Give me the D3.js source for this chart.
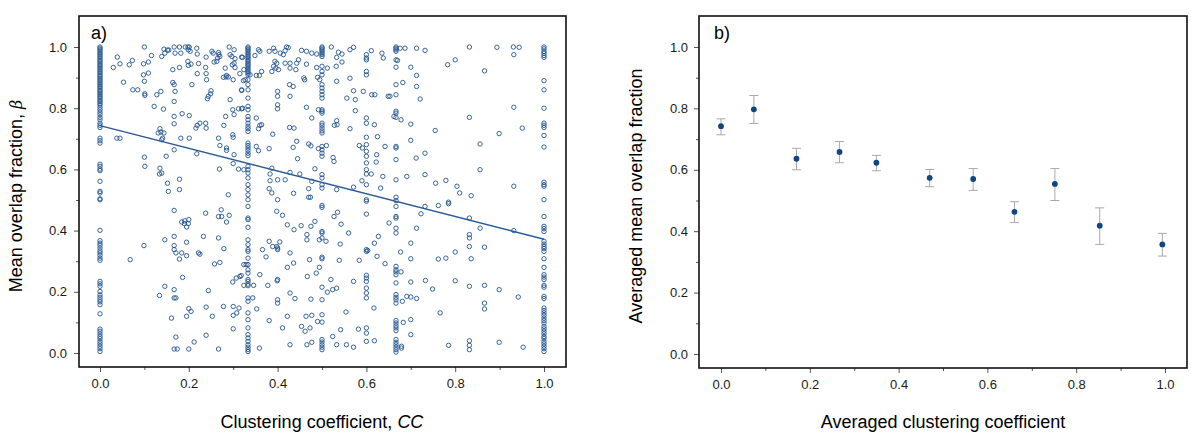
<!DOCTYPE html>
<html><head><meta charset="utf-8">
<script src="https://cdn.jsdelivr.net/npm/d3@7"></script>
<style>
body{margin:0;background:#fff;}
svg text{font-family:"Liberation Sans",Arial,sans-serif;}
</style></head>
<body><svg id="c" width="1200" height="442"></svg>
<script>
// ---------- Panel a data ----------
const columnCC = [0, 1/3, 0.4, 0.5, 0.6, 2/3, 1];
const columnBeta = [
 // CC = 0
 [1.0,0.996,0.991,0.986,0.980,0.975,0.969,0.964,0.958,0.953,0.947,0.942,0.937,0.931,0.926,0.920,0.915,0.909,0.904,0.898,0.893,0.888,0.882,0.877,0.871,0.866,0.860,0.855,0.849,0.844,0.838,0.833,0.827,0.822,0.816,0.811,0.803,0.795,0.787,0.779,0.770,0.762,0.751,0.744,0.737,0.702,0.694,0.686,0.617,0.610,0.601,0.596,0.561,0.528,0.523,0.504,0.501,0.401,0.367,0.359,0.352,0.343,0.334,0.327,0.319,0.310,0.303,0.234,0.226,0.218,0.201,0.190,0.182,0.174,0.167,0.158,0.128,0.078,0.071,0.062,0.054,0.047,0.038,0.030,0.022,0.014,0.005],
 // CC = 1/3
 [1.0,0.996,0.991,0.986,0.980,0.975,0.969,0.964,0.958,0.953,0.947,0.942,0.937,0.931,0.926,0.920,0.915,0.909,0.893,0.877,0.860,0.833,0.806,0.795,0.773,0.762,0.751,0.741,0.733,0.724,0.686,0.678,0.670,0.662,0.653,0.645,0.610,0.599,0.588,0.572,0.550,0.534,0.517,0.501,0.479,0.441,0.436,0.411,0.370,0.354,0.338,0.332,0.310,0.289,0.272,0.261,0.240,0.234,0.225,0.220,0.180,0.169,0.131,0.109,0.082,0.060,0.049,0.038,0.027,0.019,0.011,0.005],
 // CC = 0.4
 [0.855,0.839,0.811,0.798,0.343,0.338,0.240,0.174,0.163],
 // CC = 0.5
 [1.0,0.996,0.991,0.986,0.980,0.975,0.969,0.937,0.920,0.909,0.877,0.866,0.855,0.844,0.833,0.795,0.790,0.784,0.751,0.744,0.735,0.726,0.719,0.675,0.664,0.653,0.643,0.583,0.572,0.550,0.539,0.482,0.476,0.397,0.392,0.376,0.313,0.308,0.215,0.174,0.125,0.101,0.044,0.036,0.027,0.019,0.011],
 // CC = 0.6
 [0.975,0.964,0.958,0.920,0.909,0.768,0.751,0.705,0.681,0.659,0.643,0.621,0.599,0.585,0.550,0.501,0.496,0.454,0.338,0.332,0.254,0.245,0.234,0.212,0.196,0.180,0.082,0.065,0.038],
 // CC = 2/3
 [1.0,0.996,0.991,0.986,0.958,0.934,0.877,0.844,0.790,0.784,0.770,0.675,0.670,0.632,0.566,0.509,0.498,0.479,0.446,0.441,0.408,0.392,0.283,0.272,0.265,0.256,0.229,0.191,0.182,0.174,0.163,0.106,0.098,0.089,0.082,0.073,0.044,0.035,0.027,0.019,0.011,0.003],
 // CC = 1
 [1.0,0.994,0.986,0.980,0.972,0.966,0.890,0.860,0.800,0.751,0.744,0.737,0.711,0.673,0.558,0.550,0.545,0.501,0.446,0.414,0.406,0.397,0.365,0.356,0.348,0.341,0.332,0.308,0.280,0.256,0.248,0.240,0.221,0.215,0.185,0.178,0.147,0.139,0.131,0.123,0.114,0.106,0.098,0.087,0.079,0.071,0.063,0.054,0.047,0.038,0.030,0.022,0.014,0.005]
];
const scatterCC = [
 0.100,0.144,0.146,0.152,0.155,0.167,0.169,0.179,0.182,0.192,0.198,0.199,0.201,0.203,0.218,0.219,0.239,0.252,0.255,0.267,0.268,0.270,0.291,0.293,0.297,0.302,0.304,0.319,
 0.039,0.030,0.045,0.066,0.073,0.098,0.109,0.116,0.139,0.164,0.179,0.198,0.199,0.205,0.219,0.222,0.238,0.239,0.240,0.257,0.263,0.265,0.282,0.284,0.285,0.289,0.278,0.298,0.302,0.304,0.300,0.315,0.323,
 0.053,0.098,0.100,0.109,0.164,0.167,0.074,0.085,0.101,0.101,0.128,0.137,0.169,0.207,0.242,0.244,0.250,0.249,0.319,0.293,
 0.122,0.143,0.167,0.167,0.185,0.201,0.167,0.225,0.238,0.239,0.216,0.219,0.279,0.283,0.299,0.302,0.312,0.319,
 0.038,0.045,0.135,0.137,0.131,0.144,0.141,0.139,0.182,0.201,0.267,0.270,0.285,0.285,0.299,0.300,0.302,0.218,0.167,0.149,
 0.100,0.101,0.135,0.139,0.134,0.152,0.154,0.179,0.179,0.269,0.300,0.312,0.289,
 0.167,0.238,0.273,0.267,0.274,0.291,0.285,0.184,0.191,0.200,0.190,0.199,0.195,0.167,0.146,0.099,0.195,0.233,0.267,0.167,0.167,0.171,0.184,0.195,0.179,0.222,0.225,0.279,0.068,0.258,0.270,0.324,
 0.186,0.299,0.307,0.318,0.324,0.146,0.167,0.134,0.244,0.167,0.171,0.200,0.205,0.239,0.278,0.300,0.313,0.308,0.300,0.253,0.195,0.161,0.300,0.171,0.239,0.212,0.167,0.174,0.200,0.267,
 0.321,0.324,0.327,0.319,0.321,0.349,0.357,0.360,0.381,0.391,0.394,0.406,0.413,0.417,0.420,0.424,0.454,0.465,0.477,0.488,0.521,0.537,0.533,0.545,0.563,0.571,0.611,0.635,0.638,
 0.394,0.398,0.391,0.396,0.402,0.387,0.417,0.428,0.428,0.443,0.447,0.441,0.465,0.488,0.512,0.532,0.545,0.364,0.352,0.359,0.338,
 0.459,0.461,0.490,0.495,0.533,0.563,0.427,0.435,0.428,0.571,0.593,0.612,0.619,0.649,0.556,0.575,0.575,0.465,0.492,0.477,0.533,0.528,0.534,0.563,
 0.352,0.360,0.364,0.357,0.427,0.437,0.389,0.618,0.662,0.625,0.443,0.435,0.470,0.475,0.492,0.510,0.352,0.357,0.381,0.584,0.591,0.642,0.623,0.622,0.445,0.525,0.527,
 0.324,0.387,0.383,0.428,0.450,0.484,0.611,0.637,0.383,0.400,0.417,0.477,0.533,0.571,0.590,0.632,0.381,0.387,0.436,0.470,0.470,0.474,0.400,
 0.398,0.411,0.422,0.437,0.453,0.475,0.484,0.466,0.466,0.494,0.509,0.527,0.535,0.543,0.560,0.541,0.381,0.389,0.398,0.405,0.366,0.374,0.428,0.472,0.436,0.422,0.494,0.487,0.467,0.520,0.539,0.584,0.329,
 0.360,0.399,0.378,0.346,0.315,0.512,0.524,0.533,0.571,0.428,0.439,0.475,0.344,0.353,0.554,0.617,0.422,0.381,0.464,0.477,0.490,0.454,0.462,0.473,0.411,0.524,0.542,0.582,0.428,0.466,0.477,0.533,0.555,0.571,0.618,0.359,0.642,0.624,0.618,0.627,0.603,0.651,
 0.676,0.687,0.713,0.732,0.832,0.894,0.931,0.944,0.932,0.670,0.700,0.713,0.783,0.800,0.866,0.682,0.713,0.721,0.653,0.932,0.832,0.678,0.700,0.755,0.899,0.951,0.700,0.856,0.712,0.732,0.856,0.691,0.732,0.756,0.779,0.804,0.810,0.836,0.932,0.785,
 0.732,0.762,0.785,0.723,0.832,0.856,0.713,0.932,0.832,0.832,0.700,0.832,0.866,0.800,0.677,0.700,0.762,0.779,0.836,0.678,0.700,0.733,0.800,0.749,0.832,0.866,0.899,0.942,0.691,0.700,0.681,0.713,0.866,0.866,0.766,0.683,0.700,0.700,0.679,0.679,0.785,0.832,0.832,0.832,0.899,0.953
];
const scatterBeta = [
 1.0,0.993,0.980,0.990,0.990,1.0,0.980,1.0,0.980,1.0,1.0,0.991,1.0,0.986,0.996,0.977,0.967,0.986,0.980,0.982,0.975,0.969,1.0,0.975,0.969,0.991,0.962,0.967,
 0.967,0.933,0.945,0.942,0.956,0.945,0.951,0.972,0.969,0.926,0.933,0.953,0.940,0.944,0.913,0.946,0.933,0.913,0.893,0.951,0.953,0.964,0.931,0.902,0.907,0.902,0.901,0.942,0.947,0.933,0.893,0.913,0.890,
 0.885,0.909,0.888,0.915,0.884,0.877,0.860,0.860,0.847,0.842,0.844,0.855,0.855,0.877,0.831,0.839,0.857,0.847,0.858,0.828,
 0.806,0.797,0.822,0.773,0.782,0.776,0.749,0.751,0.751,0.735,0.735,0.744,0.744,0.773,0.795,0.779,0.798,0.798,
 0.702,0.702,0.733,0.722,0.719,0.719,0.702,0.697,0.702,0.702,0.702,0.678,0.670,0.662,0.713,0.705,0.648,0.651,0.664,0.643,
 0.640,0.610,0.604,0.588,0.585,0.555,0.528,0.568,0.534,0.601,0.619,0.601,0.517,
 0.466,0.457,0.468,0.446,0.446,0.450,0.428,0.428,0.432,0.436,0.423,0.423,0.412,0.381,0.370,0.351,0.362,0.381,0.376,0.351,0.338,0.327,0.327,0.318,0.307,0.327,0.323,0.341,0.305,0.291,0.296,0.289,
 0.247,0.232,0.245,0.253,0.221,0.218,0.207,0.188,0.204,0.180,0.180,0.145,0.136,0.150,0.152,0.152,0.147,0.131,0.123,0.120,0.120,0.114,0.079,0.052,0.058,0.036,0.013,0.013,0.013,0.013,
 0.966,0.926,0.893,0.860,0.800,0.972,0.991,0.986,0.986,0.996,0.986,0.980,0.975,0.988,1.0,0.998,0.989,0.986,0.980,0.977,1.0,0.983,0.966,0.977,0.991,0.999,0.988,0.980,0.964,
 0.953,0.947,0.937,0.931,0.926,0.920,0.947,0.947,0.931,0.947,0.958,0.926,0.944,0.933,0.931,0.937,0.951,0.920,0.907,0.907,0.909,
 0.899,0.893,0.901,0.893,0.888,0.898,0.877,0.871,0.839,0.857,0.855,0.844,0.844,0.839,0.833,0.828,0.792,0.803,0.795,0.768,0.759,0.744,0.746,0.733,
 0.768,0.744,0.746,0.733,0.737,0.735,0.715,0.746,0.773,0.707,0.692,0.672,0.683,0.677,0.668,0.678,0.675,0.661,0.668,0.678,0.670,0.675,0.648,0.624,0.635,0.639,0.626,
 0.599,0.604,0.585,0.590,0.585,0.602,0.585,0.577,0.563,0.566,0.566,0.561,0.534,0.542,0.563,0.539,0.537,0.523,0.522,0.537,0.509,0.509,0.501,
 0.463,0.450,0.419,0.403,0.416,0.414,0.430,0.387,0.370,0.370,0.365,0.446,0.460,0.421,0.392,0.356,0.365,0.348,0.348,0.363,0.338,0.314,0.327,0.305,0.294,0.280,0.280,0.261,0.250,0.240,0.303,0.303,0.289,
 0.256,0.236,0.221,0.221,0.250,0.199,0.207,0.212,0.234,0.196,0.178,0.176,0.180,0.144,0.134,0.147,0.120,0.106,0.120,0.123,0.103,0.087,0.071,0.082,0.082,0.054,0.076,0.078,0.027,0.027,0.035,0.027,0.027,0.019,0.040,0.016,0.292,0.316,0.359,0.381,0.335,0.425,
 0.996,0.996,0.996,0.989,1.0,0.999,1.0,0.999,0.975,0.956,0.934,0.907,0.942,0.958,0.922,0.884,0.871,0.830,0.839,0.803,0.770,0.762,0.748,0.727,0.717,0.735,0.695,0.683,0.637,0.653,0.599,0.577,0.583,0.555,0.564,0.545,0.523,0.514,0.545,0.493,
 0.479,0.482,0.488,0.455,0.441,0.408,0.408,0.400,0.387,0.376,0.359,0.348,0.346,0.330,0.330,0.308,0.307,0.310,0.308,0.265,0.232,0.237,0.236,0.209,0.218,0.221,0.207,0.183,0.185,0.183,0.169,0.178,0.163,0.144,0.131,0.100,0.109,0.060,0.022,0.016,0.025,0.040,0.025,0.011,0.035,0.019
];
const fitIntercept = 0.743;
const fitSlope = -0.371;

// ---------- Panel b data ----------
const avgCC   = [0.000, 0.074, 0.170, 0.267, 0.350, 0.470, 0.568, 0.661, 0.752, 0.853, 0.994];
const avgBeta = [0.742, 0.797, 0.636, 0.658, 0.623, 0.574, 0.570, 0.463, 0.554, 0.418, 0.357];
const errLow  = [0.714, 0.751, 0.600, 0.623, 0.597, 0.545, 0.533, 0.428, 0.500, 0.357, 0.319];
const errHigh = [0.766, 0.842, 0.670, 0.692, 0.647, 0.601, 0.604, 0.496, 0.604, 0.476, 0.393];

const majorTicks = [0, 0.2, 0.4, 0.6, 0.8, 1.0];
const minorTicks = [0.1, 0.3, 0.5, 0.7, 0.9];

const svg = d3.select("#c");
const fmt = d3.format(".1f");

function panel(opt){
  const g = svg.append("g");
  const x = d3.scaleLinear().domain([0,1]).range(opt.xr);
  const y = d3.scaleLinear().domain([0,1]).range(opt.yr);
  const [L,R,T,B] = opt.frame;
  const ax = g.append("g").attr("transform",`translate(0,${B})`)
    .call(d3.axisBottom(x).tickValues(majorTicks).tickSize(5).tickPadding(9).tickFormat(fmt));
  const axm = g.append("g").attr("transform",`translate(0,${B})`)
    .call(d3.axisBottom(x).tickValues(minorTicks).tickSize(3).tickFormat(""));
  const ay = g.append("g").attr("transform",`translate(${L},0)`)
    .call(d3.axisLeft(y).tickValues(majorTicks).tickSize(5).tickPadding(opt.ypad).tickFormat(fmt));
  const aym = g.append("g").attr("transform",`translate(${L},0)`)
    .call(d3.axisLeft(y).tickValues(minorTicks).tickSize(3).tickFormat(""));
  [ax,axm,ay,aym].forEach(a=>{
    a.select(".domain").remove();
    a.selectAll(".tick line").attr("stroke","#555").attr("stroke-width",1);
    a.selectAll("text").attr("font-size",13).attr("fill","#1a1a1a")
      .attr("font-family","'Liberation Sans',Arial,sans-serif");
  });
  ax.selectAll("text").attr("dy","0.5em");
  g.append("rect").attr("x",L).attr("y",T).attr("width",R-L).attr("height",B-T)
    .attr("fill","none").attr("stroke","#111").attr("stroke-width",1.6);
  return {g,x,y};
}

// Panel a
const A = panel({xr:[100,544], yr:[353,47], frame:[79,566,16,367], ypad:7});
const ptsA = [];
columnCC.forEach((c,i)=>columnBeta[i].forEach(b=>ptsA.push([c,b])));
scatterCC.forEach((c,i)=>ptsA.push([c,scatterBeta[i]]));
A.g.append("g").selectAll("circle").data(ptsA).join("circle")
  .attr("cx",d=>A.x(d[0])).attr("cy",d=>A.y(d[1])).attr("r",2.2)
  .attr("fill","none").attr("stroke","#235592").attr("stroke-width",0.9);
A.g.append("line")
  .attr("x1",A.x(0)).attr("y1",A.y(fitIntercept))
  .attr("x2",A.x(1)).attr("y2",A.y(fitIntercept+fitSlope))
  .attr("stroke","#2a5a96").attr("stroke-width",1.5);
A.g.append("text").attr("x",91).attr("y",39).attr("font-size",18).text("a)");
A.g.append("text").attr("x",322).attr("y",428).attr("text-anchor","middle").attr("font-size",18)
  .call(t=>{t.append("tspan").text("Clustering coefficient, ");t.append("tspan").attr("font-style","italic").text("CC");});
A.g.append("text").attr("transform","translate(22,196) rotate(-90)").attr("text-anchor","middle").attr("font-size",18)
  .call(t=>{t.append("tspan").text("Mean overlap fraction, ");t.append("tspan").attr("font-style","italic").attr("font-family","'DejaVu Serif',serif").attr("font-size",16).text("β");});

// Panel b
const Bp = panel({xr:[721,1165], yr:[354,47], frame:[699,1187,16,368], ypad:6});
const eb = Bp.g.append("g").attr("stroke","#a9a9a9").attr("stroke-width",1);
avgCC.forEach((c,i)=>{
  const cx = Bp.x(c);
  eb.append("line").attr("x1",cx).attr("x2",cx).attr("y1",Bp.y(errLow[i])).attr("y2",Bp.y(errHigh[i]));
  eb.append("line").attr("x1",cx-4.5).attr("x2",cx+4.5).attr("y1",Bp.y(errLow[i])).attr("y2",Bp.y(errLow[i]));
  eb.append("line").attr("x1",cx-4.5).attr("x2",cx+4.5).attr("y1",Bp.y(errHigh[i])).attr("y2",Bp.y(errHigh[i]));
});
Bp.g.append("g").selectAll("circle").data(avgCC).join("circle")
  .attr("cx",d=>Bp.x(d)).attr("cy",(d,i)=>Bp.y(avgBeta[i])).attr("r",2.9)
  .attr("fill","#0f4583");
Bp.g.append("text").attr("x",714).attr("y",39).attr("font-size",18).text("b)");
Bp.g.append("text").attr("x",943).attr("y",428).attr("text-anchor","middle").attr("font-size",18)
  .text("Averaged clustering coefficient");
Bp.g.append("text").attr("transform","translate(642,196) rotate(-90)").attr("text-anchor","middle").attr("font-size",18)
  .text("Averaged mean overlap fraction");
</script></body></html>
